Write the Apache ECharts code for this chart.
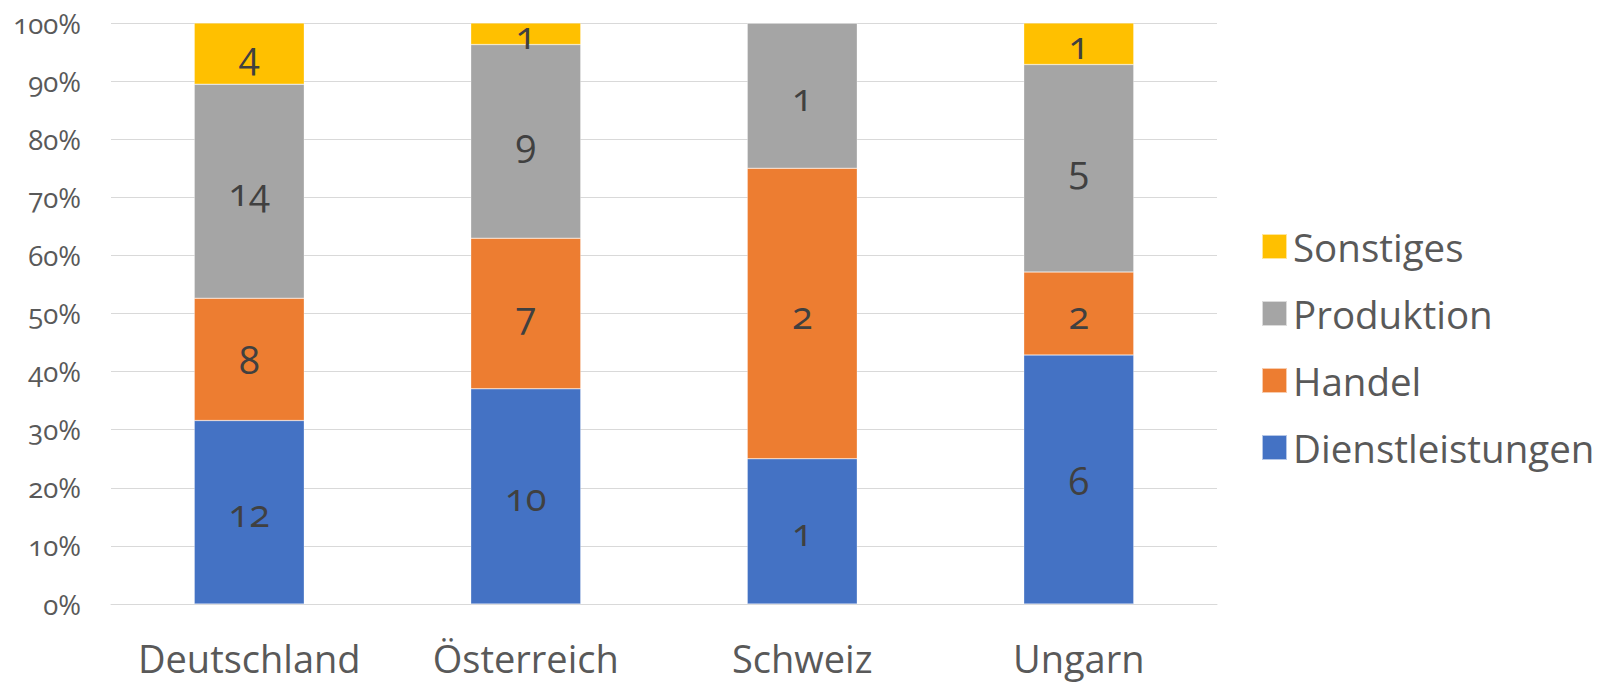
<!DOCTYPE html>
<html>
<head>
<meta charset="utf-8">
<script src="https://cdn.jsdelivr.net/npm/echarts@6/dist/echarts.min.js"></script>
<style>
  html, body { margin: 0; padding: 0; background: #ffffff; }
  #chart { width: 1610px; height: 686px; }
  #chart text { font-variant-numeric: oldstyle-nums; font-feature-settings: "onum" 1; }
</style>
</head>
<body>
<div id="chart"></div>
<script>
const categories = ['Deutschland', 'Österreich', 'Schweiz', 'Ungarn'];
const dienstleistungen = [12, 10, 1, 6];
const handel = [8, 7, 2, 2];
const produktion = [14, 9, 1, 5];
const sonstiges = [4, 1, 0, 1];
const seriesNames = ['Dienstleistungen', 'Handel', 'Produktion', 'Sonstiges'];
const legendOrder = ['Sonstiges', 'Produktion', 'Handel', 'Dienstleistungen'];
const colors = ['#4472C4', '#ED7D31', '#A5A5A5', '#FFC000'];

const counts = [dienstleistungen, handel, produktion, sonstiges];
const totals = categories.map((_, i) => counts.reduce((s, arr) => s + arr[i], 0));

const FONT = '"Open Sans", "Noto Sans", sans-serif';

const chart = echarts.init(document.getElementById('chart'), null, { renderer: 'svg' });

const series = counts.map((arr, k) => ({
  name: seriesNames[k],
  type: 'bar',
  stack: 'total',
  barWidth: 110,
  itemStyle: { color: colors[k], borderColor: 'rgba(255,255,255,0.6)', borderWidth: 0.5 },
  label: {
    show: true,
    position: 'inside',
    fontFamily: FONT,
    fontSize: 38,
    color: '#404040',
    formatter: p => (arr[p.dataIndex] > 0 ? String(arr[p.dataIndex]) : '')
  },
  data: arr.map((v, i) => v / totals[i] * 100)
}));

chart.setOption({
  animation: false,
  color: colors,
  grid: { left: 111, right: 393, top: 23, bottom: 82 },
  legend: {
    orient: 'vertical',
    left: 1256,
    top: 221,
    data: legendOrder,
    itemWidth: 25,
    itemHeight: 25,
    itemGap: 26,
    icon: 'rect',
    textStyle: { fontFamily: FONT, fontSize: 38.5, color: '#595959', lineHeight: 41, padding: [0, 0, 0, 1] }
  },
  xAxis: {
    type: 'category',
    data: categories,
    axisTick: { show: false },
    axisLine: { lineStyle: { color: '#D9D9D9', width: 1 } },
    axisLabel: { interval: 0, fontFamily: FONT, fontSize: 38, color: '#595959', margin: 35 }
  },
  yAxis: {
    type: 'value',
    min: 0,
    max: 100,
    interval: 10,
    axisLine: { show: false },
    axisTick: { show: false },
    splitLine: { lineStyle: { color: '#D9D9D9', width: 1 } },
    axisLabel: { fontFamily: FONT, fontSize: 27.5, color: '#595959', margin: 30, formatter: '{value}%' }
  },
  series: series
});
</script>
</body>
</html>
